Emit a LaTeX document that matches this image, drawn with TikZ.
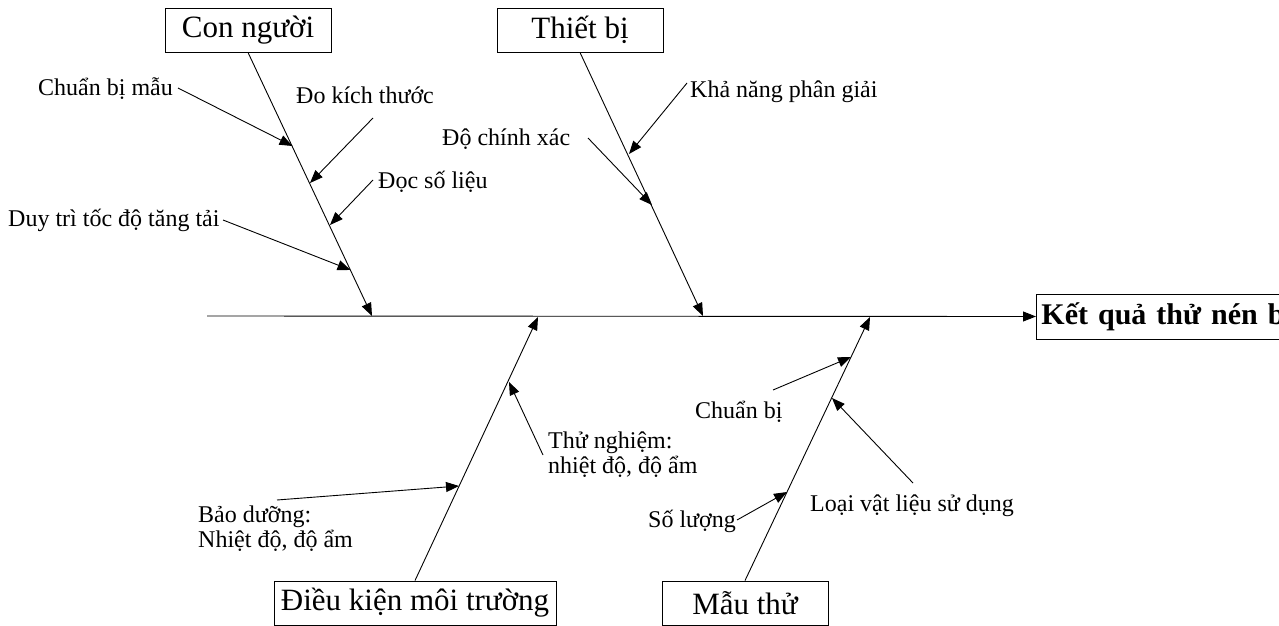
\documentclass[tikz,border=0pt]{standalone}
\usepackage{fontspec}
\setmainfont{Liberation Serif}
\usetikzlibrary{arrows.meta}
\begin{document}
\begin{tikzpicture}[x=1pt,y=-1pt,
  lbl/.style={font=\fontsize{24}{25}\selectfont, inner sep=0pt, anchor=base west, align=left},
  cat/.style={draw, line width=0.9pt, font=\fontsize{31}{32}\selectfont, inner sep=0pt, minimum height=44pt},
  bone/.style={line width=0.9pt, -{Triangle[length=13pt,width=10pt]}},
]
\useasboundingbox (0,0) rectangle (1279,626);
\clip (0,0) rectangle (1279,626);
% category boxes
\node[cat, minimum width=166pt] (cn) at (248,30) {Con người};
\node[cat, minimum width=166pt] (tb) at (580,30) {Thiết bị};
\node[cat, minimum width=282pt] (dk) at (415,603) {Điều kiện môi trường};
\node[cat, minimum width=166pt] (mt) at (745,603) {Mẫu thử};
\node[draw, line width=0.9pt, font=\bfseries\fontsize{30}{31}\selectfont, anchor=west,
      minimum height=45pt, text width=300pt, align=left, inner xsep=5pt, inner ysep=0pt]
      (kq) at (1036,316.5) {Kết quả thử nén b};
% spine
\coordinate (s0) at (207,316);
\draw[bone] (s0) -- (kq.west);
% bone ends on the spine
\coordinate (e1) at (372,316);
\coordinate (e2) at (703,316);
\coordinate (e3) at (538,317);
\coordinate (e4) at (870,317);
\draw[bone] (cn.south) -- (e1);
\draw[bone] (tb.south) -- (e2);
\draw[bone] (dk.north) -- (e3);
\draw[bone] (mt.north) -- (e4);
% labels
\node[lbl] (l1) at (38,95) {Chuẩn bị mẫu};
\node[lbl] (l2) at (296,103) {Đo kích thước};
\node[lbl] (l3) at (378,188) {Đọc số liệu};
\node[lbl] (l4) at (8,226) {Duy trì tốc độ tăng tải};
\node[lbl] (l5) at (690,97) {Khả năng phân giải};
\node[lbl] (l6) at (442,145) {Độ chính xác};
\node[lbl] (l7) at (548,473) {Thử nghiệm:\\nhiệt độ, độ ẩm};
\node[lbl] (l8) at (198,547) {Bảo dưỡng:\\Nhiệt độ, độ ẩm};
\node[lbl] (l9) at (695,418) {Chuẩn bị};
\node[lbl] (l10) at (648,527) {Số lượng};
\node[lbl] (l11) at (810,511) {Loại vật liệu sử dụng};
% sub-arrow tails and heads
\coordinate (t1) at (178,88);  \coordinate (h1) at (292.5,146);
\coordinate (t2) at (373,118); \coordinate (h2) at (310,183);
\coordinate (t3) at (373,180); \coordinate (h3) at (330,225);
\coordinate (t4) at (223,220); \coordinate (h4) at (350.5,270);
\coordinate (t5) at (687,83);  \coordinate (h5) at (629,154);
\coordinate (t6) at (588,138); \coordinate (h6) at (652,205);
\coordinate (t7) at (543,455); \coordinate (h7) at (509,382);
\coordinate (t8) at (277,500); \coordinate (h8) at (459,486);
\coordinate (t9) at (773,390); \coordinate (h9) at (851,357);
\coordinate (t10) at (737,520); \coordinate (h10) at (787,492);
\coordinate (t11) at (913,483); \coordinate (h11) at (832,398);
\foreach \i in {1,...,11} \draw[bone] (t\i) -- (h\i);
\end{tikzpicture}
\end{document}
